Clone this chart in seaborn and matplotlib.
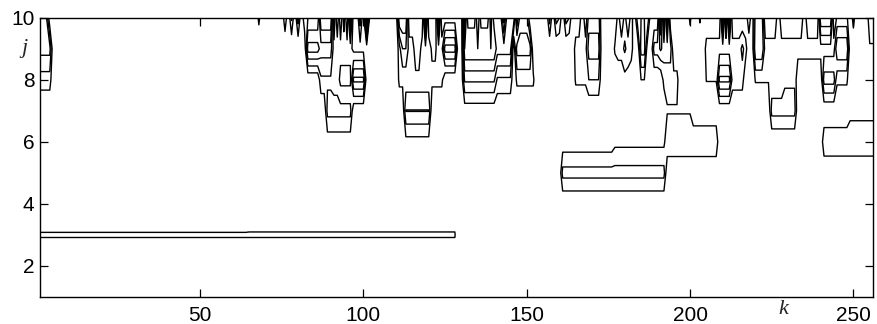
import numpy as np
import matplotlib
matplotlib.use("Agg")
import matplotlib.pyplot as plt
import seaborn as sns

# ---- data: coefficient magnitude per scale j, as (k_start, k_end, value) blocks ----
k_values = np.arange(1, 257)
j_values = np.arange(1, 11)
contour_levels = [1, 2, 3, 4, 5, 6, 7, 8]
x_ticks = [50, 100, 150, 200, 250]
y_ticks = [2, 4, 6, 8, 10]

row3 = [(1, 128, 1.09)]
row4 = [(65, 128, 0.15)]
row5 = [(161, 192, 2.4)]
row6 = [(89, 96, 0.35), (113, 120, 0.6), (161, 176, 0.3), (177, 192, 0.7),
        (193, 208, 1.9), (241, 256, 1.85)]
row7 = [(89, 96, 2.4), (113, 120, 3.05), (131, 140, 0.3), (193, 200, 0.9),
        (201, 208, 0.15), (225, 232, 2.4), (249, 256, 0.6)]
row8 = [(1, 4, 1.5), (87, 90, 1.8), (91, 92, 1.6), (93, 96, 0.66), (97, 100, 4.3),
        (111, 124, 1.3), (131, 140, 3.2), (141, 145, 1.8), (147, 152, 1.25),
        (165, 168, 1.2), (169, 172, 2.0), (180, 181, 0.6), (185, 186, 1.0),
        (192, 196, 1.4), (205, 208, 1.05), (209, 212, 4.3), (213, 216, 1.5),
        (220, 222, 1.1), (223, 224, 1.1), (225, 228, 1.4), (229, 232, 1.85),
        (241, 244, 3.5), (245, 248, 1.2)]
row9 = [(1, 4, 3.4), (83, 86, 4.5), (87, 90, 3.5), (91, 96, 1.4), (97, 100, 0.6),
        (111, 115, 1.6), (112, 113, 3.0), (116, 117, 0.3), (118, 120, 1.6),
        (121, 122, 0.8), (123, 124, 1.6), (125, 128, 4.5), (131, 140, 6.0),
        (141, 145, 4.5), (147, 151, 3.5), (165, 168, 1.6), (169, 172, 3.5),
        (177, 177, 1.2), (178, 182, 1.6), (180, 180, 2.2), (185, 186, 3.5),
        (189, 194, 2.5), (191, 191, 3.2), (205, 217, 1.5), (216, 216, 2.3),
        (220, 222, 4.0), (223, 235, 1.5), (236, 244, 1.5), (245, 248, 4.0),
        (255, 256, 0.8)]
row10 = [(1, 3, 3.0), (68, 68, 1.3), (76, 76, 1.8), (78, 78, 2.2), (80, 80, 2.5),
         (82, 82, 1.8), (83, 86, 2.0), (87, 90, 6.0), (92, 92, 3.0), (94, 94, 2.5),
         (96, 96, 5.0), (99, 99, 2.5), (101, 101, 8.0), (111, 113, 5.0),
         (119, 119, 6.0), (123, 123, 5.0), (125, 128, 0.3), (131, 145, 4.5),
         (131, 131, 7.5), (135, 135, 7.0), (139, 139, 6.5), (143, 143, 7.5),
         (146, 146, 5.0), (148, 150, 2.5), (157, 157, 2.5), (159, 159, 2.5),
         (160, 160, 2.0), (162, 162, 2.5), (163, 163, 2.0), (167, 167, 2.0),
         (169, 172, 2.5), (178, 178, 1.5), (180, 180, 1.4), (182, 182, 1.6),
         (184, 187, 3.0), (191, 191, 5.0), (193, 193, 5.0), (200, 200, 1.3),
         (203, 203, 1.2), (210, 210, 5.0), (212, 212, 5.0), (218, 218, 2.0),
         (220, 222, 3.5), (227, 227, 2.0), (235, 235, 2.0), (240, 243, 5.0),
         (245, 248, 1.2), (250, 250, 1.5), (255, 256, 2.0)]

rows = {3: row3, 4: row4, 5: row5, 6: row6, 7: row7, 8: row8, 9: row9, 10: row10}
Z = np.zeros((len(j_values), len(k_values)))
for j, blocks in rows.items():
    for k0, k1, v in blocks:
        Z[j - 1, k0 - 1:k1] = v

# ---- plot ----
sns.set_theme(style="white")
plt.rcParams["font.family"] = ["Liberation Sans", "DejaVu Sans"]
fig = plt.figure(figsize=(8.77, 3.24), dpi=100)
ax = fig.add_axes([40 / 877, 1 - 297 / 324, 833 / 877, (297 - 17.7) / 324])
ax.contour(k_values, j_values, Z, levels=contour_levels, colors="black",
           linewidths=1.0)
ax.set_xlim(1, 256)
ax.set_ylim(1, 10)
ax.set_xticks(x_ticks)
ax.set_yticks(y_ticks)
for s in ax.spines.values():
    s.set_color("black")
    s.set_linewidth(1.0)
ax.tick_params(direction="in", length=5.5, width=0.9, colors="black",
               labelsize=15, top=True, right=True, bottom=True, left=True,
               pad=6.5)
ax.tick_params(axis="y", pad=4)
fig.text(24 / 877, 1 - 49 / 324, "j", ha="center", va="center", fontsize=16,
         fontstyle="italic", family=["Liberation Serif", "DejaVu Serif"])
fig.text(783 / 877, 1 - 310 / 324, "k", ha="center", va="center", fontsize=16,
         fontstyle="italic", family=["Liberation Serif", "DejaVu Serif"])
fig.savefig("out.png", dpi=100, facecolor="white")
